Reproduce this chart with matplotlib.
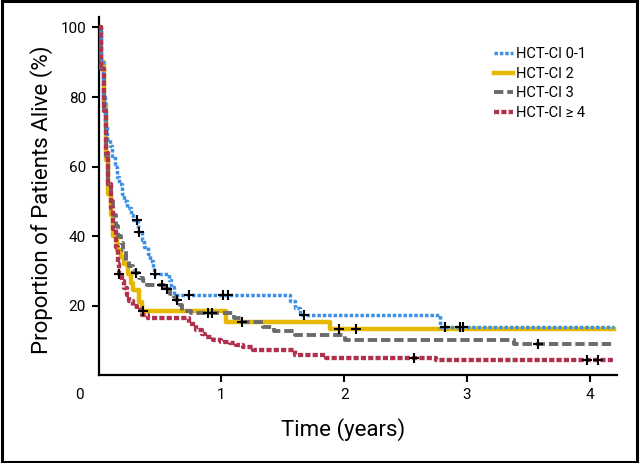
import matplotlib
matplotlib.use("Agg")
import matplotlib.pyplot as plt
from matplotlib.patches import Rectangle

plt.rcParams['font.family'] = ['Roboto', 'DejaVu Sans']

# Kaplan-Meier step data (years, % alive)
t_01 = [0, 0.02, 0.035, 0.05, 0.07, 0.09, 0.11, 0.13, 0.15, 0.17, 0.19, 0.21, 0.23, 0.26,
        0.28, 0.32, 0.35, 0.37, 0.40, 0.42, 0.44, 0.45, 0.57, 0.59, 0.615, 1.56, 1.60, 1.64,
        2.78, 4.2]
s_01 = [100, 90, 80, 72, 68, 66, 63, 60, 57, 55, 52, 50, 48, 46,
        44.8, 41.2, 39, 37, 35, 33, 31, 29.2, 27.5, 25.5, 23.2, 21.5, 19.5, 17.3,
        14, 14]

t_2 = [0, 0.02, 0.04, 0.06, 0.08, 0.10, 0.12, 0.15, 0.18, 0.21, 0.24, 0.26, 0.28, 0.33,
       0.35, 1.04, 1.886, 4.2]
s_2 = [100, 90, 78, 62, 52, 46, 40, 36, 34, 32, 29, 26.5, 24.5, 21,
       18.5, 15.4, 13.3, 13.3]

t_3 = [0, 0.02, 0.04, 0.06, 0.08, 0.10, 0.12, 0.14, 0.16, 0.18, 0.20, 0.22, 0.25, 0.28,
       0.30, 0.33, 0.36, 0.39, 0.53, 0.58, 0.61, 0.63, 0.66, 0.68, 0.75, 1.10, 1.17, 1.34,
       1.43, 1.60, 2.01, 3.38, 4.18]
s_3 = [100, 88, 75, 63, 55, 50, 46, 43, 40, 38, 36, 33, 31.5, 30,
       29.4, 28, 27, 26.1, 24.7, 23.5, 22.6, 21.8, 20.3, 18.5, 17.8, 16.5, 15.4, 14,
       12.7, 11.6, 10.3, 9.0, 9.0]

t_4 = [0, 0.02, 0.04, 0.06, 0.08, 0.10, 0.12, 0.14, 0.16, 0.17, 0.19, 0.21, 0.23, 0.25,
       0.28, 0.31, 0.35, 0.40, 0.74, 0.79, 0.84, 0.87, 0.93, 1.0, 1.07, 1.12, 1.18, 1.26,
       1.60, 1.85, 2.75, 4.2]
s_4 = [100, 88, 76, 64, 55, 48, 42, 37, 32, 29, 27, 25, 23, 21.5,
       20, 18.7, 17.5, 16.6, 14.9, 13, 12, 11, 10.3, 9.7, 9.2, 8.7, 8.2, 7.3,
       5.8, 5.1, 4.3, 4.3]

# censored observations
c_01_t = [0.31, 0.33, 0.46, 0.74, 1.01, 1.05, 1.67, 2.82, 2.945, 2.97]
c_01_s = [44.8, 41.2, 29.2, 23.2, 23.2, 23.2, 17.3, 14, 14, 14]
c_2_t = [0.365, 1.17, 1.96, 2.1]
c_2_s = [18.5, 15.4, 13.3, 13.3]
c_3_t = [0.305, 0.514, 0.555, 0.637, 0.894, 0.92, 3.58]
c_3_s = [29.4, 26.1, 24.7, 21.8, 17.8, 17.8, 9.0]
c_4_t = [0.169, 2.566, 3.98, 4.07]
c_4_s = [29, 5.1, 4.3, 4.3]

labels = ['HCT-CI 0-1', 'HCT-CI 2', 'HCT-CI 3', 'HCT-CI \u2265 4']
colors = ['#3C91E6', '#E6B800', '#6B6B6B', '#B0324F']

fig = plt.figure(figsize=(6.4, 4.63), dpi=100)
ax = fig.add_axes([0.1541, 0.1892, 0.8095, 0.7741])

ax.step(t_2, s_2, where='post', color=colors[1], lw=3.2, label=labels[1], zorder=2)
ax.step(t_3, s_3, where='post', color=colors[2], lw=2.8, ls=(0, (2.4, 1.0)),
        label=labels[2], zorder=3)
ax.step(t_01, s_01, where='post', color=colors[0], lw=2.5, ls=(0, (1, 0.55)),
        label=labels[0], zorder=4)
ax.step(t_4, s_4, where='post', color=colors[3], lw=3.1, ls=(0, (1.2, 0.5)),
        label=labels[3], zorder=5)

for ct, cs in [(c_01_t, c_01_s), (c_2_t, c_2_s), (c_3_t, c_3_s), (c_4_t, c_4_s)]:
    ax.plot(ct, cs, ls='none', marker='+', ms=7, mew=1.5, color='black', zorder=6)

ax.set_xlim(0, 4.22)
ax.set_ylim(0, 103)
ax.set_xticks([1, 2, 3, 4])
ax.set_yticks([20, 40, 60, 80, 100])
ax.tick_params(direction='out', length=5, width=1.5, labelsize=11, pad=4)
for side in ['top', 'right']:
    ax.spines[side].set_visible(False)
for side in ['left', 'bottom']:
    ax.spines[side].set_linewidth(1.6)

ax.annotate('0', xy=(0, 0), xycoords='data', xytext=(-13.5, -14), textcoords='offset points',
            ha='center', va='center', fontsize=11)

ax.set_xlabel('Time (years)', fontsize=16)
ax.xaxis.set_label_coords(0.4727, -0.119)
ax.set_ylabel('Proportion of Patients Alive (%)', fontsize=16)
ax.yaxis.set_label_coords(-0.0876, 0.49)

handles, labs = ax.get_legend_handles_labels()
order = [labs.index(l) for l in labels]
ax.legend([handles[i] for i in order], [labs[i] for i in order],
          loc='upper left', bbox_to_anchor=(487 / 640, 1 - 40 / 463),
          bbox_transform=fig.transFigure, frameon=False, fontsize=10.5,
          handlelength=1.3, handletextpad=0.2, labelspacing=0.38, borderpad=0)

fig.add_artist(Rectangle((0.003, 0.003), 0.992, 0.994, transform=fig.transFigure,
                         fill=False, edgecolor='black', lw=2.2))

fig.savefig('out.png', dpi=100)
